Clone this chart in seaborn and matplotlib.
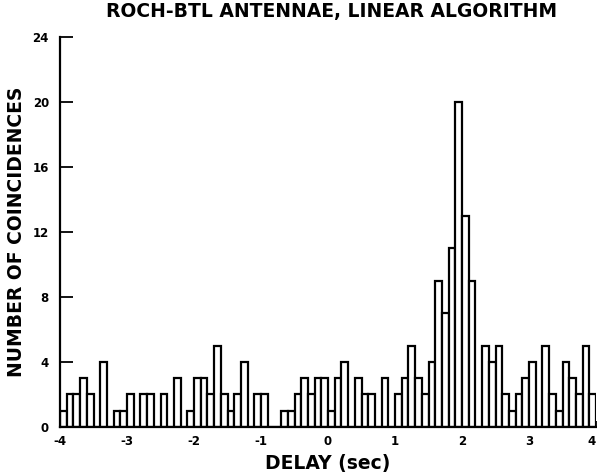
import numpy as np
import pandas as pd
import matplotlib
matplotlib.use("Agg")
import matplotlib.pyplot as plt
import seaborn as sns

# ---- data ----
bin_width = 0.1
delay_min, delay_max = -4.0, 4.0
coincidences = [
    1, 2, 2, 3, 2, 0, 4, 0, 1, 1,
    2, 0, 2, 2, 0, 2, 0, 3, 0, 1,
    3, 3, 2, 5, 2, 1, 2, 4, 0, 2,
    2, 0, 0, 1, 1, 2, 3, 2, 3, 3,
    1, 3, 4, 0, 3, 2, 2, 0, 3, 0,
    2, 3, 5, 3, 2, 4, 9, 7, 11, 20,
    13, 9, 0, 5, 4, 5, 2, 1, 2, 3,
    4, 0, 5, 2, 1, 4, 3, 2, 5, 2,
]
x_ticks = [-4, -3, -2, -1, 0, 1, 2, 3, 4]
x_tick_labels = ["-4", "-3", "-2", "-1", "0", "1", "2", "3", "4"]
y_ticks = [0, 4, 8, 12, 16, 20, 24]
y_tick_labels = ["0", "4", "8", "12", "16", "20", "24"]
title = "ROCH-BTL ANTENNAE, LINEAR ALGORITHM"
x_label = "DELAY (sec)"
y_label = "NUMBER OF COINCIDENCES"

n_bins = len(coincidences)
edges = np.linspace(delay_min, delay_max, n_bins + 1)
centers = (edges[:-1] + edges[1:]) / 2
df = pd.DataFrame({"delay": centers, "count": np.asarray(coincidences, float)})

sns.set_theme(style="white")
plt.rcParams["font.family"] = ["DejaVu Sans"]
plt.rcParams["text.color"] = "black"
plt.rcParams["axes.labelcolor"] = "black"
plt.rcParams["xtick.color"] = "black"
plt.rcParams["ytick.color"] = "black"

fig = plt.figure(figsize=(5.97, 4.76), dpi=100)
ax = fig.add_axes([0.1005, 0.103, 0.898, 0.819])

sns.histplot(data=df, x="delay", weights="count", bins=n_bins,
             binrange=(delay_min, delay_max),
             color="white", edgecolor="black", linewidth=1.6, alpha=1.0,
             ax=ax)

ax.set_xlim(delay_min, delay_max)
ax.set_ylim(0, 24)
ax.set_xticks(x_ticks)
ax.set_xticklabels(x_tick_labels, fontsize=8.5, fontweight="bold")
ax.set_yticks(y_ticks)
ax.set_yticklabels(y_tick_labels, fontsize=8.5, fontweight="bold")
ax.tick_params(axis="y", direction="in", length=9, width=1.3, pad=8,
               left=True)
ax.tick_params(axis="x", direction="in", length=4, width=1.3, pad=6,
               bottom=True)
ax.get_xticklabels()[-1].set_horizontalalignment("right")

for s in ["top", "right"]:
    ax.spines[s].set_visible(False)
for s in ["left", "bottom"]:
    ax.spines[s].set_linewidth(1.6)
    ax.spines[s].set_color("black")

ax.set_xlabel(x_label, fontsize=13.5, fontweight="bold", labelpad=4)
ax.set_ylabel(y_label, fontsize=13.5, fontweight="bold", labelpad=5)
fig.text(0.555, 0.976, title, ha="center", va="center",
         fontsize=13.5, fontweight="bold")

fig.savefig("out.png", dpi=100, facecolor="white")
